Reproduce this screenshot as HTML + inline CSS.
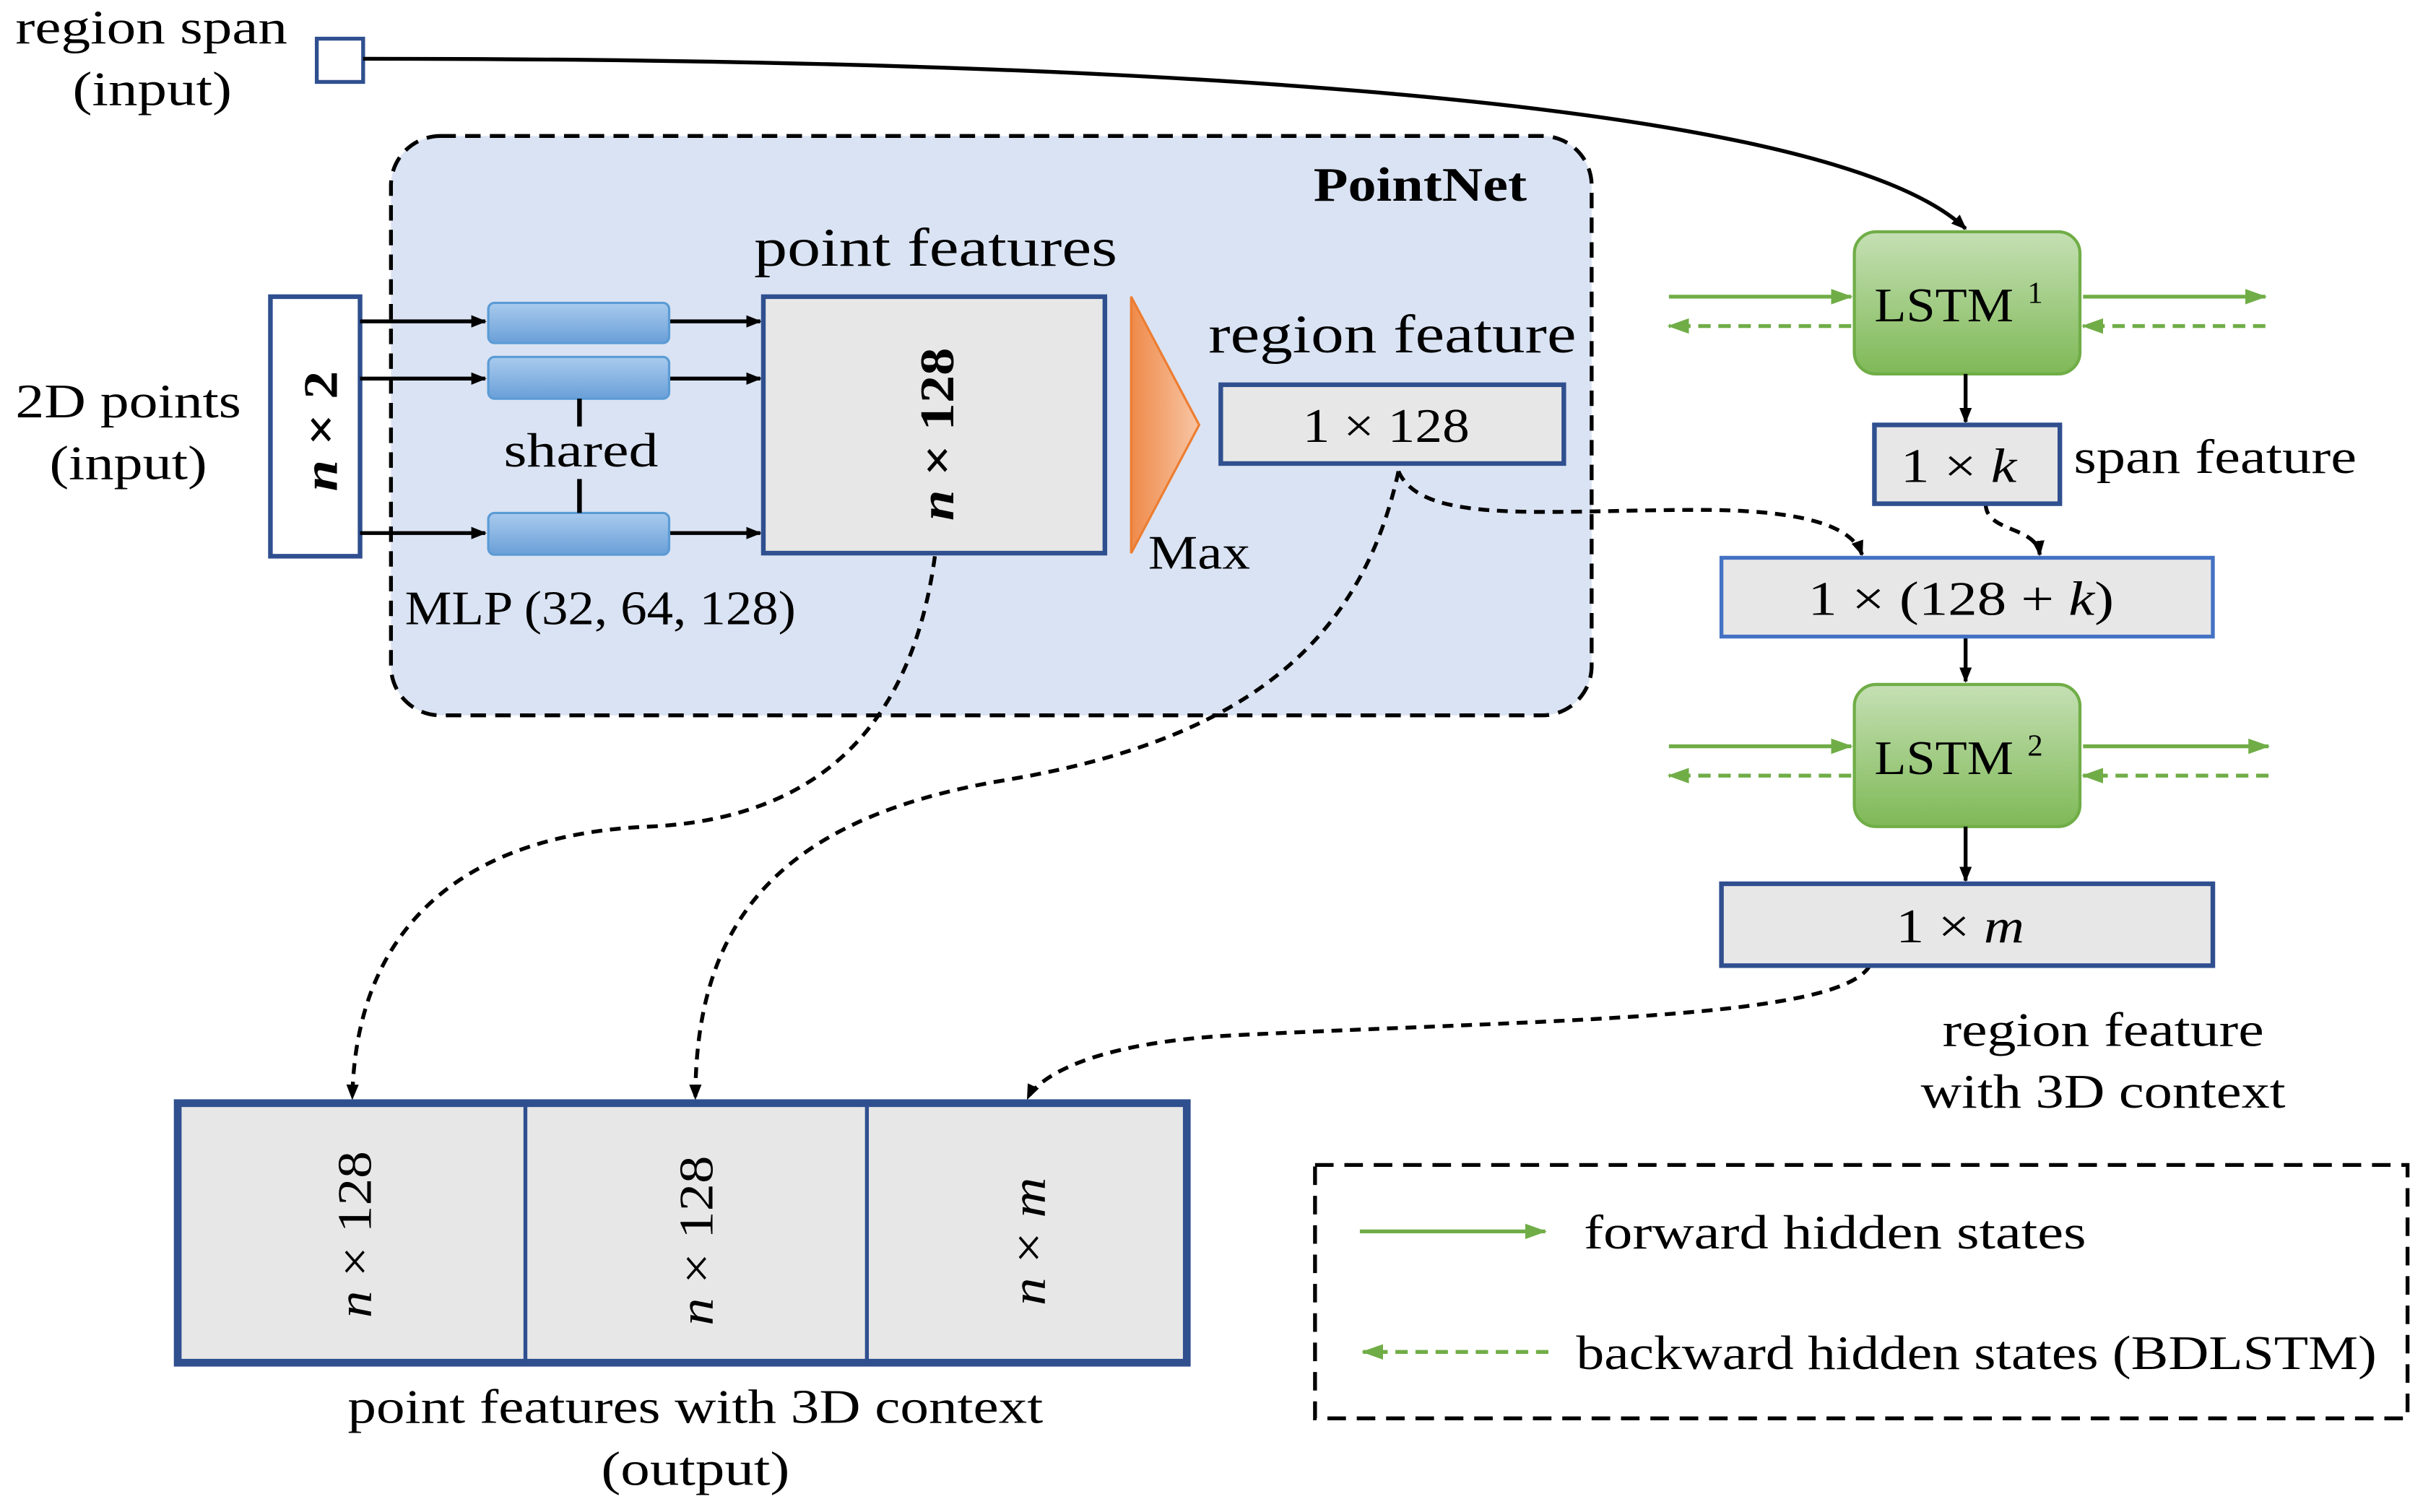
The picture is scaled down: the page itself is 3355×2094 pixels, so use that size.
<!DOCTYPE html>
<html><head><meta charset="utf-8"><style>
html,body{margin:0;padding:0;background:#fff;}
svg{display:block;}
text{font-family:"Liberation Serif",serif;fill:#000;}
</style></head><body>
<svg width="3355" height="2094" viewBox="0 0 1568 978.6" xmlns="http://www.w3.org/2000/svg">
<defs>
<marker id="ab" markerWidth="10" markerHeight="10" refX="9" refY="5" orient="auto" markerUnits="userSpaceOnUse"><path d="M0,1 L10,5 L0,9 z" fill="#000"/></marker>
<marker id="ag" markerWidth="14" markerHeight="12" refX="13" refY="6" orient="auto" markerUnits="userSpaceOnUse"><path d="M0,1 L14,6 L0,11 z" fill="#70ad47"/></marker>
<linearGradient id="gb" x1="0" y1="0" x2="0" y2="1"><stop offset="0" stop-color="#a9cbee"/><stop offset="1" stop-color="#6a9fd8"/></linearGradient>
<linearGradient id="gg" x1="0" y1="0" x2="0" y2="1"><stop offset="0" stop-color="#c5e0b4"/><stop offset="1" stop-color="#7fb957"/></linearGradient>
<linearGradient id="go" x1="0" y1="0" x2="1" y2="0"><stop offset="0" stop-color="#ef8a4a"/><stop offset="1" stop-color="#f8c6a5"/></linearGradient>
</defs>

<g font-size="31">
<text x="10" y="28" textLength="176" lengthAdjust="spacingAndGlyphs">region span</text>
<text x="47" y="68" textLength="103" lengthAdjust="spacingAndGlyphs">(input)</text>
</g>
<rect x="205" y="25" width="30" height="28" fill="#fff" stroke="#2f4f8f" stroke-width="2.5"/>
<path d="M235,38 C700,38 1180,60 1272,148" fill="none" stroke="#000" stroke-width="2.5" marker-end="url(#ab)"/>

<rect x="253" y="88" width="777" height="375" rx="32" fill="#dae3f3" stroke="#000" stroke-width="2.5" stroke-dasharray="10,6"/>
<text x="850" y="130" font-size="31" font-weight="bold" textLength="138" lengthAdjust="spacingAndGlyphs">PointNet</text>

<text x="10" y="270" font-size="31" textLength="146" lengthAdjust="spacingAndGlyphs">2D points</text>
<text x="32" y="310" font-size="31" textLength="102" lengthAdjust="spacingAndGlyphs">(input)</text>
<rect x="175" y="192" width="58" height="168" fill="#fff" stroke="#2f4f8f" stroke-width="3"/>
<text transform="translate(218,318) rotate(-90)" font-size="31" font-weight="bold" textLength="78" lengthAdjust="spacingAndGlyphs"><tspan font-style="italic">n</tspan> × 2</text>

<g stroke="#000" stroke-width="2.5" marker-end="url(#ab)">
<line x1="233" y1="208" x2="314" y2="208"/>
<line x1="233" y1="245" x2="314" y2="245"/>
<line x1="233" y1="345" x2="314" y2="345"/>
<line x1="433" y1="208" x2="492" y2="208"/>
<line x1="433" y1="245" x2="492" y2="245"/>
<line x1="433" y1="345" x2="492" y2="345"/>
</g>
<g fill="url(#gb)" stroke="#5b9bd5" stroke-width="1.5">
<rect x="316" y="196" width="117" height="26" rx="4"/>
<rect x="316" y="231" width="117" height="27" rx="4"/>
<rect x="316" y="332" width="117" height="27" rx="4"/>
</g>
<line x1="375" y1="258" x2="375" y2="276" stroke="#000" stroke-width="3"/>
<line x1="375" y1="310" x2="375" y2="332" stroke="#000" stroke-width="3"/>
<text x="326" y="302" font-size="31" textLength="100" lengthAdjust="spacingAndGlyphs">shared</text>
<text x="262" y="404" font-size="31" textLength="253" lengthAdjust="spacingAndGlyphs">MLP (32, 64, 128)</text>

<text x="488" y="172" font-size="35" textLength="235" lengthAdjust="spacingAndGlyphs">point features</text>
<rect x="494" y="192" width="221" height="166" fill="#e7e7e7" stroke="#2f4f8f" stroke-width="3"/>
<text transform="translate(617,337) rotate(-90)" font-size="31" font-weight="bold" textLength="112" lengthAdjust="spacingAndGlyphs"><tspan font-style="italic">n</tspan> × 128</text>

<polygon points="732,192 776,275 732,358" fill="url(#go)" stroke="#ed7d31" stroke-width="1.5"/>
<text x="743" y="368" font-size="31" textLength="66" lengthAdjust="spacingAndGlyphs">Max</text>

<text x="782" y="228" font-size="35" textLength="238" lengthAdjust="spacingAndGlyphs">region feature</text>
<rect x="790" y="249" width="222" height="51" fill="#e7e7e7" stroke="#2f4f8f" stroke-width="3"/>
<text x="843" y="286" font-size="31" textLength="108" lengthAdjust="spacingAndGlyphs">1 × 128</text>

<g fill="none" stroke="#000" stroke-width="2.5" stroke-dasharray="7,5" marker-end="url(#ab)">
<path d="M905,305 C920,340 1000,330 1100,330 C1180,330 1200,345 1205,359"/>
<path d="M605,360 C590,470 530,530 420,535 C300,540 230,600 228,711"/>
<path d="M905,305 C880,420 800,480 650,505 C500,530 450,600 450,711"/>
<path d="M1210,625 C1190,660 1000,660 800,670 C700,675 670,700 665,711"/>
<path d="M1285,326 C1285,345 1318,340 1320,359"/>
</g>

<rect x="1200" y="150" width="146" height="92" rx="14" fill="url(#gg)" stroke="#70ad47" stroke-width="2"/>
<text x="1213" y="208" font-size="31" textLength="90" lengthAdjust="spacingAndGlyphs">LSTM</text><text x="1317" y="196" font-size="20" text-anchor="middle">1</text>
<rect x="1200" y="443" width="146" height="92" rx="14" fill="url(#gg)" stroke="#70ad47" stroke-width="2"/>
<text x="1213" y="501" font-size="31" textLength="90" lengthAdjust="spacingAndGlyphs">LSTM</text><text x="1317" y="489" font-size="20" text-anchor="middle">2</text>

<g stroke="#70ad47" stroke-width="2.5" fill="none">
<line x1="1080" y1="192" x2="1198" y2="192" marker-end="url(#ag)"/>
<line x1="1198" y1="211" x2="1080" y2="211" stroke-dasharray="8,5" marker-end="url(#ag)"/>
<line x1="1348" y1="192" x2="1466" y2="192" marker-end="url(#ag)"/>
<line x1="1466" y1="211" x2="1348" y2="211" stroke-dasharray="8,5" marker-end="url(#ag)"/>
<line x1="1080" y1="483" x2="1198" y2="483" marker-end="url(#ag)"/>
<line x1="1198" y1="502" x2="1080" y2="502" stroke-dasharray="8,5" marker-end="url(#ag)"/>
<line x1="1348" y1="483" x2="1468" y2="483" marker-end="url(#ag)"/>
<line x1="1468" y1="502" x2="1348" y2="502" stroke-dasharray="8,5" marker-end="url(#ag)"/>
<line x1="880" y1="797" x2="1000" y2="797" marker-end="url(#ag)"/>
<line x1="1002" y1="875" x2="882" y2="875" stroke-dasharray="8,5" marker-end="url(#ag)"/>
</g>

<g stroke="#000" stroke-width="2.5" marker-end="url(#ab)">
<line x1="1272" y1="242" x2="1272" y2="273"/>
<line x1="1272" y1="412" x2="1272" y2="441"/>
<line x1="1272" y1="535" x2="1272" y2="570"/>
</g>

<rect x="1213" y="275" width="120" height="51" fill="#e7e7e7" stroke="#2f4f8f" stroke-width="3"/>
<text x="1230" y="312" font-size="31" textLength="75" lengthAdjust="spacingAndGlyphs">1 × <tspan font-style="italic">k</tspan></text>
<text x="1342" y="306" font-size="31" textLength="183" lengthAdjust="spacingAndGlyphs">span feature</text>

<rect x="1114" y="361" width="318" height="51" fill="#e7e7e7" stroke="#4472c4" stroke-width="2.5"/>
<text x="1170" y="398" font-size="31" textLength="198" lengthAdjust="spacingAndGlyphs">1 × (128 + <tspan font-style="italic">k</tspan>)</text>

<rect x="1114" y="572" width="318" height="53" fill="#e7e7e7" stroke="#2f4f8f" stroke-width="3"/>
<text x="1227" y="610" font-size="31" textLength="83" lengthAdjust="spacingAndGlyphs">1 × <tspan font-style="italic">m</tspan></text>

<text x="1257" y="677" font-size="31" textLength="208" lengthAdjust="spacingAndGlyphs">region feature</text>
<text x="1243" y="717" font-size="31" textLength="236" lengthAdjust="spacingAndGlyphs">with 3D context</text>

<rect x="115" y="714" width="653" height="168" fill="#e7e7e7" stroke="#2f4f8f" stroke-width="5"/>
<line x1="340" y1="714" x2="340" y2="882" stroke="#2f4f8f" stroke-width="2.5"/>
<line x1="561" y1="714" x2="561" y2="882" stroke="#2f4f8f" stroke-width="2.5"/>
<text transform="translate(240,853) rotate(-90)" font-size="31" textLength="108" lengthAdjust="spacingAndGlyphs"><tspan font-style="italic">n</tspan> × 128</text>
<text transform="translate(461,858) rotate(-90)" font-size="31" textLength="110" lengthAdjust="spacingAndGlyphs"><tspan font-style="italic">n</tspan> × 128</text>
<text transform="translate(676,845) rotate(-90)" font-size="31" textLength="83" lengthAdjust="spacingAndGlyphs"><tspan font-style="italic">n</tspan> × <tspan font-style="italic">m</tspan></text>
<text x="225" y="921" font-size="31" textLength="450" lengthAdjust="spacingAndGlyphs">point features with 3D context</text>
<text x="389" y="961" font-size="31" textLength="122" lengthAdjust="spacingAndGlyphs">(output)</text>

<rect x="851" y="754" width="707" height="164" fill="none" stroke="#000" stroke-width="2.5" stroke-dasharray="12,7"/>
<text x="1025" y="808" font-size="31" textLength="325" lengthAdjust="spacingAndGlyphs">forward hidden states</text>
<text x="1020" y="886" font-size="31" textLength="518" lengthAdjust="spacingAndGlyphs">backward hidden states (BDLSTM)</text>
</svg>
</body></html>
